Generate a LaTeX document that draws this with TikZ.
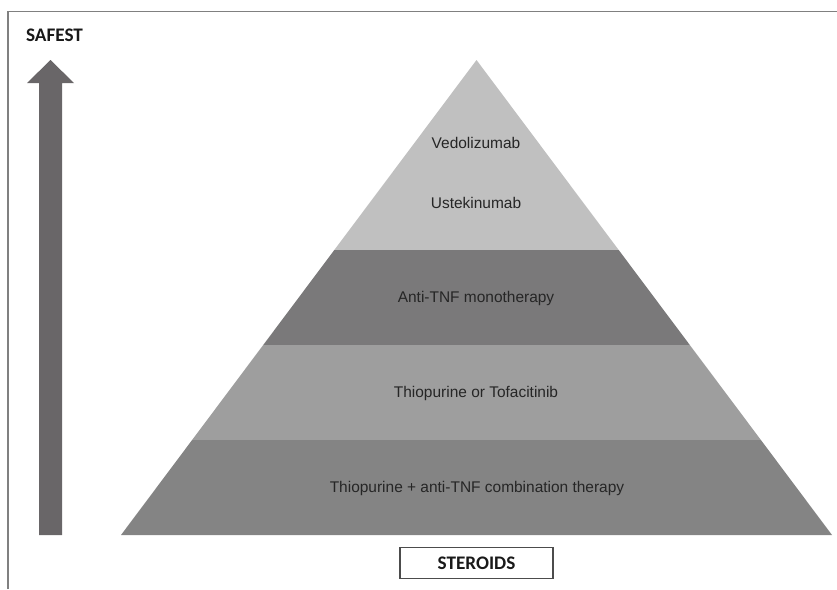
\documentclass[tikz,border=0pt]{standalone}
\usepackage{fontspec}
\setmainfont{Liberation Sans}
\newfontfamily\calfont{Carlito}
\usepackage{tikz}
\usetikzlibrary{positioning,calc}

\definecolor{bandA}{RGB}{192,192,192}
\definecolor{bandB}{RGB}{122,121,122}
\definecolor{bandC}{RGB}{158,158,158}
\definecolor{bandD}{RGB}{132,132,132}
\definecolor{arrowgray}{RGB}{105,102,104}
\definecolor{framegray}{RGB}{128,128,128}
\definecolor{txtgray}{RGB}{38,38,38}

\tikzset{
	drug/.style={text=txtgray,font=\fontsize{11.6}{13}\selectfont,inner sep=0pt},
	tag/.style={font=\calfont\bfseries\fontsize{14.4}{16}\selectfont,text=black!90,inner sep=0pt},
}

\begin{document}
\begin{tikzpicture}[x=0.75pt,y=-0.75pt]
		\useasboundingbox (0,0) rectangle (837,589);
		
		% frame
		\draw[framegray,line width=1.1pt] (8,589)--(8,11.5)--(837,11.5);
		
		\coordinate (apex) at (476.5,60);
		\coordinate (bl) at (121,535);
		\coordinate (br) at (832,535);
		\coordinate (base) at (476.5,535);
		
		% pyramid layers
		\fill[bandA] (apex)--($(apex)!0.4!(br)$)--($(apex)!0.4!(bl)$)--cycle;
		\fill[bandB] ($(apex)!0.4!(bl)$)--($(apex)!0.4!(br)$)--($(apex)!0.6!(br)$)--($(apex)!0.6!(bl)$)--cycle;
		\fill[bandC] ($(apex)!0.6!(bl)$)--($(apex)!0.6!(br)$)--($(apex)!0.8!(br)$)--($(apex)!0.8!(bl)$)--cycle;
		\fill[bandD] ($(apex)!0.8!(bl)$)--($(apex)!0.8!(br)$)--(br)--(bl)--cycle;
		
		\node[drug] (vedo) at (476,143) {Vedolizumab};
		\node[drug] (uste) at (476,203) {Ustekinumab};
		\node[drug] (antitnf) at (476,298) {Anti-TNF monotherapy};
		\node[drug] (thio) at (476,393) {Thiopurine or Tofacitinib};
		\node[drug] (combo) at (477,488) {Thiopurine + anti-TNF combination therapy};
		
		% safety arrow
		\fill[arrowgray] (39,535)--(39,83)--(27,83)--(50.5,60)--(74,83)--(62,83)--(62,535)--cycle;
		\node[tag] (safe) at (54.5,35.5) {SAFEST};
		
		\node[tag,below=9pt of base,minimum width=115pt,minimum height=23pt,draw=black!70,line width=1.1pt] (ster) {STEROIDS};
	\end{tikzpicture}
\end{document}
